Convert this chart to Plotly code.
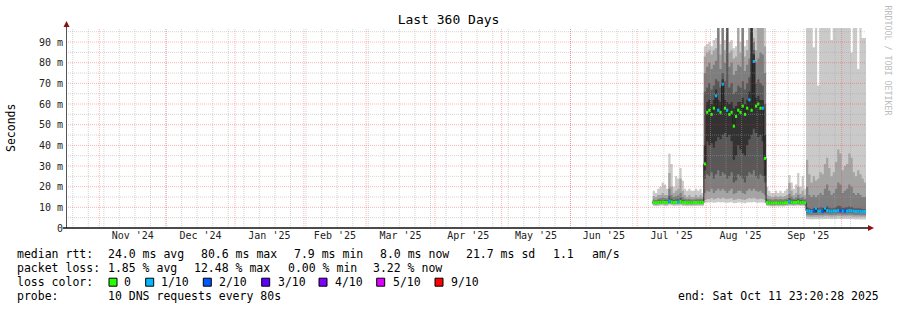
import pandas as pd
import plotly.graph_objects as go

# ---------------- data ----------------
range_start = "2024-10-16 23:20:28"
range_end = "2025-10-11 23:20:28"
first_bin = "2025-07-08"          # daily bins start here

# sorted ping percentiles (ms), one value per day
ping1 = [10.6, 10.5, 10.7, 10.8, 10.9, 10.7, 10.6, 11.0, 10.9, 10.7, 10.8, 10.8, 10.9, 10.7, 10.6, 10.5, 10.6, 10.5, 10.6, 10.7, 10.6, 10.7, 10.6,
         12.2, 12.4, 12.3, 12.5, 12.2, 12.4, 12.6, 12.3, 12.5, 12.4, 12.2, 12.4, 12.5, 12.0, 12.1, 12.3, 12.3, 12.2, 12.0, 12.3, 12.5, 12.4, 12.6, 12.3, 12.2, 12.4, 12.3, 12.0,
         10.6, 10.5, 10.4, 10.4, 10.5, 10.4, 10.5, 10.4, 10.5, 10.6, 10.8, 10.7, 10.6, 10.7, 10.8, 10.6, 10.7, 10.5,
         4.3, 4.2, 4.1, 4.2, 4.2, 4.2, 4.3, 4.2, 4.4, 4.4, 4.3, 4.2, 4.3, 4.3, 4.5, 4.4, 4.3, 4.3, 4.3, 4.4, 4.3, 4.2, 4.1, 4.2, 4.1, 4.1, 4.1]
ping2 = [11.2, 11.1, 11.3, 11.4, 11.5, 11.3, 11.2, 11.7, 11.5, 11.3, 11.4, 11.4, 11.6, 11.3, 11.2, 11.1, 11.2, 11.1, 11.2, 11.3, 11.2, 11.3, 11.2,
         13.5, 14, 14, 14.5, 13.8, 14.2, 14.5, 14, 14.6, 14.3, 14, 14.2, 14.4, 13.6, 13.8, 14.1, 14, 13.8, 13.5, 14, 14.5, 14.2, 14.6, 14.1, 13.9, 14.2, 14, 13.5,
         11.1, 11.0, 10.9, 10.9, 11.0, 10.9, 11.0, 10.9, 11.0, 11.1, 11.3, 11.2, 11.1, 11.2, 11.3, 11.1, 11.2, 11.0,
         5.6, 5.5, 5.4, 5.5, 5.5, 5.5, 5.6, 5.5, 5.7, 5.7, 5.6, 5.5, 5.6, 5.6, 5.8, 5.7, 5.6, 5.6, 5.6, 5.7, 5.6, 5.5, 5.4, 5.5, 5.4, 5.4, 5.4]
ping3 = [11.6, 11.5, 11.7, 11.8, 11.9, 11.7, 11.6, 12.1, 11.9, 11.7, 11.8, 11.8, 12.0, 11.7, 11.6, 11.5, 11.6, 11.5, 11.6, 11.7, 11.6, 11.7, 11.6,
         17, 18, 17.5, 19, 17, 18, 19, 18, 19, 18, 17, 18, 19, 16.5, 17, 18, 18, 17, 16.5, 18, 19, 18, 19, 18, 17.5, 18, 17, 16,
         11.5, 11.4, 11.3, 11.3, 11.4, 11.3, 11.4, 11.3, 11.4, 11.5, 11.7, 11.6, 11.5, 11.6, 11.7, 11.5, 11.6, 11.4,
         6.4, 6.3, 6.2, 6.3, 6.3, 6.3, 6.4, 6.3, 6.5, 6.5, 6.4, 6.3, 6.4, 6.4, 6.6, 6.5, 6.4, 6.4, 6.4, 6.5, 6.4, 6.3, 6.2, 6.3, 6.2, 6.2, 6.2]
ping4 = [11.9, 11.8, 12.0, 12.1, 12.2, 12.0, 11.9, 12.4, 12.2, 12.0, 12.1, 12.1, 12.3, 12.0, 11.9, 11.8, 11.9, 11.8, 11.9, 12.0, 11.9, 12.0, 11.9,
         24, 26, 25, 27, 24, 26, 28, 25, 27, 26, 24, 25, 27, 22, 23, 26, 25, 24, 22, 25, 27, 26, 28, 25, 24, 26, 25, 22,
         11.8, 11.7, 11.6, 11.6, 11.7, 11.6, 11.7, 11.6, 11.7, 11.8, 12.0, 11.9, 11.8, 11.9, 12.0, 11.8, 11.9, 11.7,
         7.4, 7.3, 7.2, 7.3, 7.3, 7.3, 7.4, 7.3, 7.5, 7.5, 7.4, 7.3, 7.4, 7.4, 7.6, 7.5, 7.4, 7.4, 7.4, 7.5, 7.4, 7.3, 7.2, 7.3, 7.2, 7.2, 7.2]
ping5 = [12.1, 12.0, 12.2, 12.3, 12.4, 12.2, 12.1, 12.6, 12.4, 12.2, 12.3, 12.3, 12.5, 12.2, 12.1, 12.0, 12.1, 12.0, 12.1, 12.2, 12.1, 12.2, 12.1,
         28, 42, 40, 41, 39, 42, 44, 43, 45, 46, 44, 45, 42, 33, 35, 40, 38, 36, 35, 40, 43, 45, 48, 46, 44, 45, 42, 25,
         12.1, 12.0, 11.9, 11.9, 12.0, 11.9, 12.0, 11.9, 12.0, 12.1, 12.4, 12.2, 12.1, 12.2, 12.4, 12.1, 12.2, 12.0,
         7.9, 7.8, 7.7, 7.8, 7.9, 7.8, 7.9, 7.8, 8.0, 8.0, 7.9, 7.8, 7.9, 7.9, 8.1, 8.0, 7.9, 7.9, 7.9, 8.0, 7.9, 7.8, 7.7, 7.8, 7.7, 7.7, 7.7]
ping6 = [12.6, 12.5, 12.7, 12.8, 12.9, 12.7, 12.6, 13.4, 13.0, 12.7, 12.8, 12.8, 13.1, 12.7, 12.6, 12.5, 12.6, 12.5, 12.6, 12.7, 12.6, 12.7, 12.6,
         40, 61, 62, 60, 62, 67, 62, 61, 72, 62, 61, 60, 61, 58, 59, 61, 61, 63, 60, 62, 66, 100, 84, 63, 64, 62, 62, 45,
         12.7, 12.6, 12.5, 12.5, 12.6, 12.5, 12.6, 12.5, 12.6, 12.8, 13.3, 13.0, 12.8, 12.9, 13.2, 12.8, 13.0, 12.7,
         8.8, 8.6, 8.5, 8.7, 9.8, 8.6, 8.8, 8.7, 9.9, 9.0, 8.7, 8.6, 8.7, 8.8, 9.2, 9.0, 8.7, 8.8, 8.8, 9.0, 8.9, 8.6, 8.5, 8.6, 8.5, 8.5, 8.4]
ping7 = [13.1, 13.0, 13.3, 13.4, 13.6, 13.4, 13.3, 15.5, 14.2, 13.6, 13.8, 13.9, 14.6, 13.6, 13.2, 13.0, 13.2, 13.0, 13.1, 13.3, 13.1, 13.3, 13.1,
         66, 68, 70, 67, 69, 72, 71, 68, 75, 71, 100, 68, 70, 65, 66, 69, 68, 71, 67, 70, 73, 100, 86, 70, 72, 70, 69, 60,
         13.2, 13.1, 13.0, 13.0, 13.1, 13.0, 13.1, 13.0, 13.1, 13.3, 14.5, 13.8, 13.3, 13.5, 14.2, 13.4, 13.7, 13.2,
         10.0, 9.5, 9.2, 9.5, 9.3, 9.6, 10.0, 9.7, 10.2, 10.5, 9.8, 9.4, 9.6, 10.0, 10.8, 10.5, 9.7, 9.9, 10.0, 10.4, 10.2, 9.6, 9.4, 9.6, 9.4, 9.2, 9.1]
ping8 = [13.8, 13.6, 14.2, 14.4, 14.8, 14.5, 14.3, 19.0, 16.0, 15.0, 15.5, 15.8, 17.0, 15.0, 14.2, 13.9, 14.1, 13.8, 13.9, 14.2, 14.0, 14.3, 14.0,
         75, 78, 80, 77, 79, 81, 100, 77, 100, 80, 100, 78, 80, 74, 76, 79, 78, 100, 76, 79, 82, 100, 90, 80, 82, 85, 84, 75,
         14.2, 14, 13.8, 13.8, 14, 13.8, 14, 13.8, 14, 14.3, 16.5, 15.2, 14.3, 14.8, 16, 14.5, 15, 14.2,
         20, 16, 15, 16, 15, 16, 17, 16, 19, 21, 18, 16, 17, 19, 22, 21, 17, 18, 19, 21, 20, 17, 16, 17, 16, 15, 15]
ping9 = [15.5, 15.0, 16.0, 16.0, 17.0, 16.0, 16.0, 26.6, 20.0, 17.0, 18.0, 19.0, 24.0, 18.0, 16.0, 15.0, 16.0, 15.0, 15.0, 16.0, 15.0, 16.0, 15.0,
         83, 85, 86, 84, 86, 87, 100, 84, 100, 86, 100, 85, 86, 82, 83, 100, 85, 100, 83, 86, 100, 100, 92, 86, 100, 100, 100, 88,
         16, 15.5, 15, 15, 15.5, 15, 15.5, 15, 15.5, 16, 21.8, 18, 16, 17, 20, 16.5, 18, 16,
         33, 26, 22, 25, 23, 24, 27, 26, 31, 34, 29, 25, 27, 32, 38, 36, 28, 30, 31, 36, 34, 27, 25, 28, 26, 24, 22]
ping10 = [18, 17, 19, 20, 22, 21, 19, 36, 31, 20, 25, 24, 29, 23, 19, 18, 19, 18, 18, 19, 18, 19, 17,
          88, 89, 90, 88, 91, 92, 100, 89, 100, 91, 100, 90, 91, 87, 88, 100, 90, 100, 88, 91, 100, 100, 100, 100, 100, 100, 100, 100,
          20, 18, 17, 17, 18, 17, 18, 17, 18, 19, 25.6, 22, 19, 21, 26.6, 20, 25, 19,
          100, 100, 100, 87.5, 100, 69, 100, 100, 100, 100, 100, 91, 100, 100, 100, 100, 100, 100, 100, 100, 85, 100, 100, 77, 100, 92, 92]
median_ms = [12.3, 12.2, 12.4, 12.5, 12.6, 12.4, 12.3, 13.0, 12.6, 12.4, 12.5, 12.5, 12.8, 12.4, 12.3, 12.2, 12.3, 12.2, 12.3, 12.4, 12.3, 12.4, 12.3,
             31, 56, 57, 55, 58, 64, 57, 56, 69.6, 58, 57, 55, 56, 49.3, 54, 57, 56, 59, 55, 58, 62, 57, 80.6, 59, 60, 58, 58, 33.7,
             12.3, 12.2, 12.1, 12.1, 12.2, 12.1, 12.2, 12.1, 12.2, 12.3, 12.8, 12.5, 12.3, 12.4, 12.7, 12.3, 12.5, 12.2,
             8.3, 8.1, 8.0, 8.2, 9.5, 8.1, 8.2, 8.1, 9.6, 8.4, 8.2, 8.1, 8.2, 8.2, 8.5, 8.4, 8.2, 8.3, 8.2, 8.4, 8.3, 8.1, 8.0, 8.1, 8.0, 8.0, 8.0]
loss_tenths = [0, 0, 0, 0, 0, 0, 0, 1, 0, 0, 0, 1, 0, 0, 0, 0, 0, 0, 0, 0, 0, 0, 0,
               0, 0, 0, 0, 0, 1, 1, 0, 1, 0, 1, 0, 0, 0, 0, 0, 0, 0, 0, 0, 1, 0, 1, 0, 0, 0, 1, 0,
               0, 0, 0, 0, 0, 0, 0, 0, 0, 0, 1, 0, 0, 0, 0, 0, 0, 0,
               1, 1, 1, 2, 1, 1, 1, 2, 1, 1, 1, 1, 1, 1, 1, 2, 1, 2, 1, 1, 1, 1, 1, 1, 1, 1, 1]

y_tick_vals = [0, 10, 20, 30, 40, 50, 60, 70, 80, 90]
y_tick_text = ["0", "10 m", "20 m", "30 m", "40 m", "50 m", "60 m", "70 m", "80 m", "90 m"]

loss_levels = [0, 1, 2, 3, 4, 5, 9]
loss_labels = ["0", "1/10", "2/10", "3/10", "4/10", "5/10", "9/10"]
loss_colors = ["#26ff00", "#00b8ff", "#0059ff", "#5e00ff", "#7e00ff", "#dd00ff", "#ff0000"]

smoke_colors = ["#cacaca", "#a4a4a4", "#7e7e7e", "#585858", "#323232"]

legend_rtt = [("median rtt:", 16), ("24.0 ms avg", 107.3), ("80.6 ms max", 200), ("7.9 ms min", 293.3),
              ("8.0 ms now", 379), ("21.7 ms sd", 465), ("1.1", 551.7), ("am/s", 591)]
legend_loss = [("packet loss:", 16), ("1.85 % avg", 107.3), ("12.48 % max", 193.3), ("0.00 % min", 286.7),
               ("3.22 % now", 371.7)]

# ---------------- layout helpers (pixel -> paper) ----------------
W, H = 897, 310
L, R, T, B = 66, 31, 28, 82
PW, PH = W - L - R, H - T - B


def px(x):
    return (x - L) / PW


def py(y):
    return (T + PH - y) / PH


MONO = "DejaVu Sans Mono"

fig = go.Figure()

edges = pd.date_range(first_bin, periods=len(median_ms) + 1, freq="D")


def stepped(vals):
    return list(vals) + [vals[-1]]


pings = [ping1, ping2, ping3, ping4, ping5, ping6, ping7, ping8, ping9, ping10]
for i in range(5):
    lo, hi = pings[i], pings[9 - i]
    fig.add_trace(go.Scatter(x=edges, y=stepped(lo), mode="lines",
                             line=dict(width=0, shape="hv"), hoverinfo="skip", showlegend=False))
    fig.add_trace(go.Scatter(x=edges, y=stepped(hi), mode="lines",
                             line=dict(width=0, shape="hv"), fill="tonexty",
                             fillcolor=smoke_colors[i], hoverinfo="skip", showlegend=False))

# median thin line
fig.add_trace(go.Scatter(x=edges, y=stepped(median_ms), mode="lines",
                         line=dict(color="#202020", width=1, shape="hv"),
                         hoverinfo="skip", showlegend=False))

# loss-coloured median marks
for lvl, col in zip(loss_levels, loss_colors):
    xs, ys = [], []
    for k, (m, ls) in enumerate(zip(median_ms, loss_tenths)):
        if ls == lvl:
            xs += [edges[k], edges[k + 1], None]
            ys += [m, m, None]
    if xs:
        fig.add_trace(go.Scatter(x=xs, y=ys, mode="lines", line=dict(color=col, width=3),
                                 hoverinfo="skip", showlegend=False))

shapes = []
# grid (drawn above the data like rrdtool)
minor_col = "rgba(160,160,160,0.45)"
major_col = "rgba(255,40,40,0.35)"
dash = "1px,1px"
for d in pd.date_range("2024-10-20", range_end, freq="7D"):
    shapes.append(dict(type="line", xref="x", yref="paper", x0=d, x1=d, y0=0, y1=1,
                       line=dict(color=minor_col, width=1, dash=dash), layer="above"))
for v in range(5, 100, 10):
    shapes.append(dict(type="line", xref="paper", yref="y", x0=0, x1=1, y0=v, y1=v,
                       line=dict(color=minor_col, width=1, dash=dash), layer="above"))
for d in pd.date_range("2024-11-01", range_end, freq="MS"):
    shapes.append(dict(type="line", xref="x", yref="paper", x0=d, x1=d, y0=0, y1=1,
                       line=dict(color=major_col, width=1, dash=dash), layer="above"))
for v in y_tick_vals[1:]:
    shapes.append(dict(type="line", xref="paper", yref="y", x0=0, x1=1, y0=v, y1=v,
                       line=dict(color=major_col, width=1, dash=dash), layer="above"))

# axes lines + arrows
shapes.append(dict(type="line", xref="paper", yref="paper", x0=px(66.5), x1=px(66.5), y0=py(228), y1=py(25),
                   line=dict(color="#555555", width=1), layer="above"))
shapes.append(dict(type="line", xref="paper", yref="paper", x0=px(63), x1=px(868), y0=py(228), y1=py(228),
                   line=dict(color="#111111", width=1.5), layer="above"))
shapes.append(dict(type="path", xref="paper", yref="paper",
                   path=f"M {px(63.5)},{py(27)} L {px(69.5)},{py(27)} L {px(66.5)},{py(21)} Z",
                   fillcolor="#8b1010", line=dict(width=0), layer="above"))
shapes.append(dict(type="path", xref="paper", yref="paper",
                   path=f"M {px(868)},{py(225)} L {px(868)},{py(231)} L {px(874)},{py(228)} Z",
                   fillcolor="#8b1010", line=dict(width=0), layer="above"))

annotations = []


def text(t, x, y, anchor="left", size=11.5, color="#000000", angle=0, yanchor="middle"):
    annotations.append(dict(text=t.replace(" ", "\u00a0"), x=px(x), y=py(y), xref="paper", yref="paper",
                            xanchor=anchor, yanchor=yanchor, showarrow=False, textangle=angle,
                            borderpad=0, font=dict(family=MONO, size=size, color=color)))


for t, x in legend_rtt:
    text(t, x, 254.3)
for t, x in legend_loss:
    text(t, x, 268.3)
text("loss color:", 16, 282.3)
sq_x = [109, 145.7, 203.3, 261.7, 319, 376.7, 435]
lab_x = [123, 160, 217.7, 276.5, 334, 391.7, 450]
for lab, col, sx, lx in zip(loss_labels, loss_colors, sq_x, lab_x):
    shapes.append(dict(type="rect", xref="paper", yref="paper", x0=px(sx), x1=px(sx + 8),
                       y0=py(286.2), y1=py(278.2), fillcolor=col,
                       line=dict(color="#000000", width=1), layer="above"))
    text(lab, lx, 282.3)
text("probe:", 16, 296)
text("10 DNS requests every 80s", 107.3, 296)
text("end: Sat Oct 11 23:20:28 2025", 880, 296, anchor="right")
text("Seconds", 10.5, 127.5, anchor="center", angle=-90)
text("RRDTOOL / TOBI OETIKER", 887.5, 4, anchor="center", size=8.3, color="#bcbcbc", angle=90, yanchor="top")

fig.update_layout(
    width=W, height=H,
    margin=dict(l=L, r=R, t=T, b=B, pad=0),
    paper_bgcolor="#ffffff", plot_bgcolor="#ffffff",
    showlegend=False,
    title=dict(text="Last 360 Days", x=0.5, xref="container", xanchor="center",
               y=1 - 19 / H, yref="container", yanchor="middle",
               font=dict(family=MONO, size=13, color="#000000")),
    xaxis=dict(type="date", range=[range_start, range_end], tick0="2024-11-01", dtick="M1",
               ticklabelmode="period", tickformat="%b '%y", showgrid=False, zeroline=False,
               showline=False, ticks="", tickfont=dict(family=MONO, size=10, color="#222222")),
    yaxis=dict(range=[0, 96.8], tickvals=y_tick_vals, ticktext=y_tick_text, showgrid=False,
               zeroline=False, showline=False, ticks="", ticklabelstandoff=2,
               tickfont=dict(family=MONO, size=10, color="#222222")),
    shapes=shapes,
    annotations=annotations,
)

fig.write_html("out.html")
